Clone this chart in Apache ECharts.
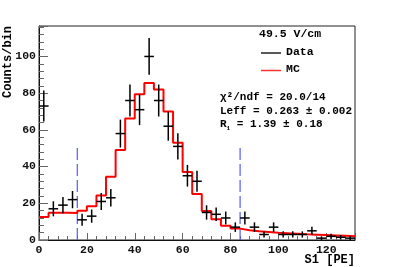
<!DOCTYPE html>
<html>
<head>
<meta charset="utf-8">
<script src="https://cdn.jsdelivr.net/npm/echarts@6/dist/echarts.min.js"></script>
<style>html,body{margin:0;padding:0;background:#fff;}#c{width:395px;height:267px;}</style>
</head>
<body>
<div id="c"></div>
<script>
// Bin centers (S1 [PE]), bin width 4
var binCenters = [2,6,10,14,18,22,26,30,34,38,42,46,50,54,58,62,66,70,74,78,82,86,90,94,98,102,106,110,114,118,122,126,130];
var dataCounts = [73,17,19,22,11,13,21,23,58,76,71,100,76,62,51,35,32,15,14,12,7,12,7,3,7,3,3,3,5,1,2,1.5,1];
var dataErrors = [8.5,4.1,4.4,4.7,3.3,3.6,4.6,4.8,7.6,8.7,8.4,10,8.7,7.9,7.1,5.9,5.7,3.9,3.7,3.5,2.6,3.5,2.6,1.7,2.6,1.7,1.7,1.7,2.2,1,1.4,1.2,1];
var binEdges = [0,4,8,12,16,20,24,28,32,36,40,44,48,52,56,60,64,68,72,76,80,84,88,92,96,100,104,108,112,116,120,124,128,132];
var mcCounts = [12.5,14.8,14.8,14.7,16,18.4,24.2,34.5,49,66.2,79.4,85.6,82,70,53,37,25,15.8,11.3,7.8,6.2,5.3,4.8,4.4,4.0,3.7,3.4,3.1,2.9,2.7,2.5,2.3,2.1];
var cutPositions = [16, 84];
var cutHeight = 51;
var xTicks = [0,20,40,60,80,100,120];
var yTicks = [0,20,40,60,80,100];
var fieldLabel = '49.5 V/cm';
var legendNames = ['Data', 'MC'];
var statLines = ['χ²/ndf = 20.0/14', 'Leff = 0.263 ± 0.002'];
var rLabel = ['R', '1', ' = 1.39 ± 0.18'];

var FONT = 'Liberation Mono';
var chart = echarts.init(document.getElementById('c'), null, {renderer: 'canvas'});

var mcStep = [];
for (var i = 0; i < mcCounts.length; i++) mcStep.push([binEdges[i], mcCounts[i]]);
mcStep.push([binEdges[binEdges.length - 1], mcCounts[mcCounts.length - 1]]);

var crossData = [];
for (var j = 0; j < binCenters.length; j++) crossData.push([binCenters[j], dataCounts[j], dataErrors[j]]);

var cutSeries = cutPositions.map(function (x) {
  return {
    type: 'line', data: [[x, 0], [x, cutHeight]], symbol: 'none', silent: true,
    lineStyle: {color: '#4f5cff', width: 1.2, type: [12, 4]}, z: 1
  };
});

var option = {
  animation: false,
  backgroundColor: '#fff',
  grid: {left: 39, right: 40, top: 26, bottom: 27, show: true, borderColor: '#222', borderWidth: 1, backgroundColor: 'transparent'},
  xAxis: {
    type: 'value', min: 0, max: 132, interval: 20,
    axisLine: {lineStyle: {color: '#111', width: 1}},
    axisTick: {inside: true, length: 7, lineStyle: {color: '#666'}},
    minorTick: {show: true, splitNumber: 5, length: 4, lineStyle: {color: '#666'}},
    splitLine: {show: false},
    axisLabel: {
      showMaxLabel: false, margin: 4, color: '#111', fontFamily: FONT, fontWeight: 'bold', fontSize: 11.5,
      formatter: function (v) { return xTicks.indexOf(v) >= 0 ? String(v) : ''; }
    }
  },
  yAxis: {
    type: 'value', min: 0, max: 116.6, interval: 20,
    axisLine: {show: true, lineStyle: {color: '#111', width: 1}},
    axisTick: {show: true, inside: true, length: 9, lineStyle: {color: '#666'}},
    minorTick: {show: true, splitNumber: 5, length: 5, lineStyle: {color: '#666'}},
    splitLine: {show: false},
    axisLabel: {
      showMaxLabel: false, margin: 3, color: '#111', fontFamily: FONT, fontWeight: 'bold', fontSize: 11.5,
      formatter: function (v) { return yTicks.indexOf(v) >= 0 ? String(v) : ''; }
    }
  },
  series: [
    {
      type: 'line', name: 'MC', data: mcStep, step: 'end', symbol: 'none',
      lineStyle: {color: '#ff0000', width: 2}, z: 2
    }
  ].concat(cutSeries).concat([
    {
      type: 'custom', name: 'Data', data: crossData, z: 3,
      renderItem: function (params, api) {
        var x = api.value(0), y = api.value(1), e = api.value(2);
        var pL = api.coord([x - 2, y]), pR = api.coord([x + 2, y]);
        var pB = api.coord([x, Math.max(0, y - e)]), pT = api.coord([x, y + e]);
        var st = {stroke: '#000', lineWidth: 1.5};
        return {type: 'group', children: [
          {type: 'line', shape: {x1: pL[0], y1: pL[1], x2: pR[0], y2: pR[1]}, style: st},
          {type: 'line', shape: {x1: pB[0], y1: pB[1], x2: pT[0], y2: pT[1]}, style: st}
        ]};
      }
    }
  ]),
  graphic: [
    {type: 'text', left: 259, top: 28, style: {text: fieldLabel, font: 'bold 11.5px "Liberation Mono"', fill: '#000'}},
    {type: 'line', shape: {x1: 261, y1: 53, x2: 281, y2: 53}, style: {stroke: '#222', lineWidth: 1.5}},
    {type: 'text', left: 286, top: 46, style: {text: legendNames[0], font: 'bold 11.5px "Liberation Mono"', fill: '#000'}},
    {type: 'line', shape: {x1: 261, y1: 70.5, x2: 281, y2: 70.5}, style: {stroke: '#ff3030', lineWidth: 1.5}},
    {type: 'text', left: 286, top: 63.5, style: {text: legendNames[1], font: 'bold 11.5px "Liberation Mono"', fill: '#000'}},
    {type: 'text', left: 220, top: 92, style: {text: statLines[0], font: 'bold 11px "Liberation Mono"', fill: '#000'}},
    {type: 'text', left: 220, top: 105.5, style: {text: statLines[1], font: 'bold 11px "Liberation Mono"', fill: '#000'}},
    {type: 'text', left: 220, top: 119, style: {
      text: '{a|' + rLabel[0] + '}{s|' + rLabel[1] + '}{a|' + rLabel[2] + '}',
      rich: {
        a: {fontFamily: FONT, fontWeight: 'bold', fontSize: 11, fill: '#000', color: '#000'},
        s: {fontFamily: FONT, fontWeight: 'bold', fontSize: 6, color: '#000', padding: [7, 0, 0, 0]}
      }
    }},
    {type: 'text', x: 8, y: 62, rotation: Math.PI / 2, style: {
      text: 'Counts/bin', font: 'bold 12px "Liberation Mono"', fill: '#000', align: 'center', verticalAlign: 'middle'
    }},
    {type: 'text', right: 40, top: 254, style: {text: 'S1 [PE]', font: 'bold 12px "Liberation Mono"', fill: '#000'}}
  ]
};
chart.setOption(option);
</script>
</body>
</html>
